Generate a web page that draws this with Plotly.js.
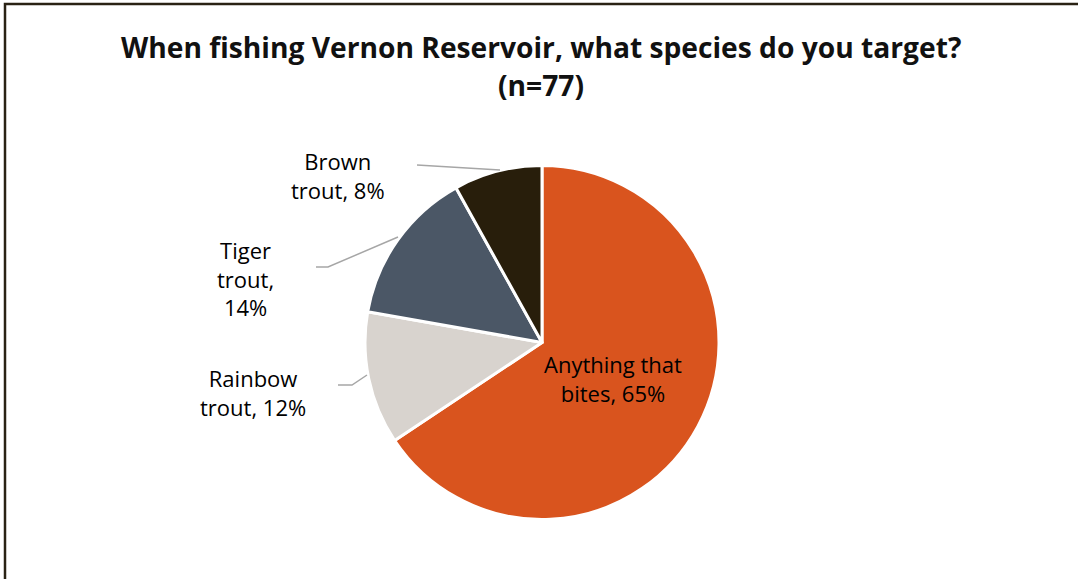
<!DOCTYPE html>
<html>
<head>
<meta charset="utf-8">
<script src="https://cdn.plot.ly/plotly-3.0.1.min.js"></script>
<style>html,body{margin:0;padding:0;background:#fff;}#chart{width:1078px;height:579px;}</style>
</head>
<body>
<div id="chart"></div>
<script>
const categories = ["Anything that bites", "Rainbow trout", "Tiger trout", "Brown trout"];
const values = [65, 12, 14, 8];
const colors = ["#D9541E", "#D8D3CE", "#4B5766", "#281E0B"];
// label line breaks as in the reference
const labelLines = [
  ["Anything that", "bites, 65%"],
  ["Rainbow", "trout, 12%"],
  ["Tiger", "trout,", "14%"],
  ["Brown", "trout, 8%"]
];
const titleText = "When fishing Vernon Reservoir, what species do you target?";
const nText = "(n=77)";

const W = 1078, H = 579;
const px = x => x / W;
const py = y => 1 - y / H;

const trace = {
  type: "pie",
  labels: categories,
  values: values,
  sort: false,
  direction: "clockwise",
  rotation: 0,
  marker: {colors: colors, line: {color: "#ffffff", width: 3}},
  textinfo: "none",
  hoverinfo: "label+percent",
  domain: {x: [px(365), px(719)], y: [py(520), py(165)]},
  showlegend: false
};

// label anchor positions (text centres) in pixels
const labelPos = [[613, 378], [253, 392], [245, 279], [338, 175]];
const annotations = labelLines.map((lines, i) => ({
  xref: "paper", yref: "paper",
  x: px(labelPos[i][0]), y: py(labelPos[i][1]),
  xanchor: "center", yanchor: "middle",
  text: lines.join("<br>"),
  showarrow: false,
  font: {family: "Open Sans, sans-serif", size: 22, color: "#000000"}
}));
// title lines
[[titleText, 47], [nText, 85]].forEach(([t, y]) => annotations.push({
  xref: "paper", yref: "paper",
  x: px(541), y: py(y), xanchor: "center", yanchor: "middle",
  text: "<b>" + t + "</b>", showarrow: false,
  font: {family: "Open Sans, sans-serif", size: 28.2, color: "#111111"}
}));

// leader lines (pixel paths)
const leaders = [
  [[338, 385], [352, 385], [367, 375]],
  [[316, 267], [328, 267], [398, 237]],
  [[417, 165], [500, 170]]
];
const shapes = leaders.map(pts => ({
  type: "path", xref: "paper", yref: "paper",
  path: pts.map((p, j) => (j ? "L" : "M") + px(p[0]) + "," + py(p[1])).join(" "),
  line: {color: "#A6A6A6", width: 1.5}
}));
shapes.push({
  type: "rect", xref: "paper", yref: "paper",
  x0: px(5), x1: px(1090), y0: py(600), y1: py(4),
  line: {color: "#2A2214", width: 2.5}, fillcolor: "rgba(0,0,0,0)"
});

const layout = {
  width: W, height: H,
  margin: {l: 0, r: 0, t: 0, b: 0},
  paper_bgcolor: "#ffffff",
  annotations: annotations,
  shapes: shapes
};

Plotly.newPlot("chart", [trace], layout, {displayModeBar: false, staticPlot: true});
</script>
</body>
</html>
